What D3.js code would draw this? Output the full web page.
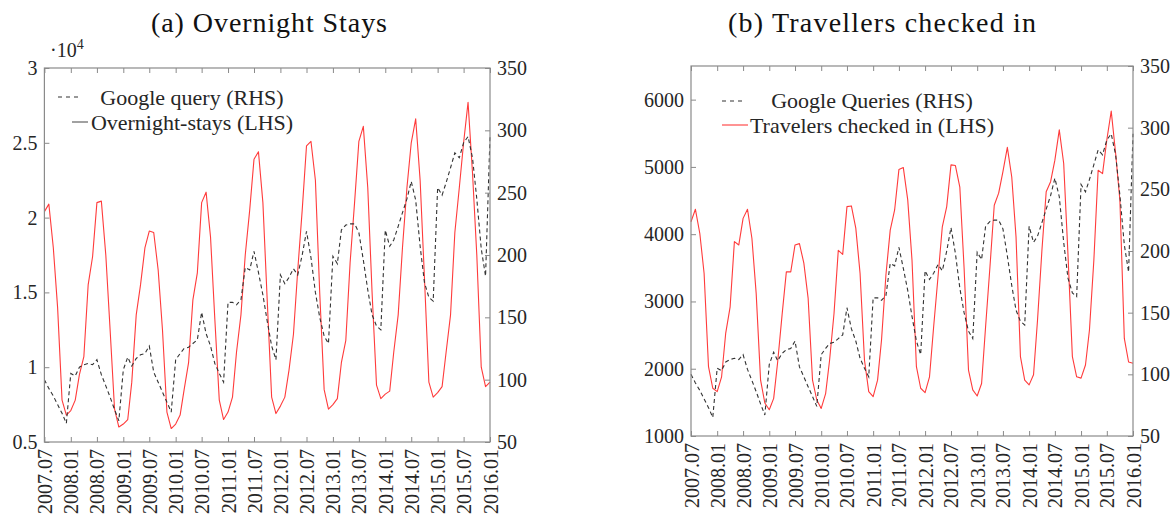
<!DOCTYPE html>
<html>
<head>
<meta charset="utf-8">
<script src="https://cdn.jsdelivr.net/npm/d3@7"></script>
<style>
  html, body { margin: 0; padding: 0; background: #fff; }
  svg { display: block; }
  svg text { font-family: "Liberation Serif", "Times New Roman", serif !important; }
</style>
</head>
<body>
<svg id="chart" width="1176" height="521"></svg>
<script>
// ---- data ----------------------------------------------------------------
// x-axis tick labels (every six months)
const tickLabels = ["2007.07","2008.01","2008.07","2009.01","2009.07","2010.01",
  "2010.07","2011.01","2011.07","2012.01","2012.07","2013.01","2013.07","2014.01",
  "2014.07","2015.01","2015.07","2016.01"];

// Google search query index (right-hand scale), monthly 2007.07 - 2016.01
const googleQueries = [100,93,87,80,73,65,
  105,103,110,112,113,112,116,104,95,86,76,67,
  108,118,111,117,120,121,127,106,98,90,82,74,
  116,121,125,126,129,132,154,137,127,113,105,98,
  162,162,160,164,190,188,203,186,168,147,127,116,
  184,177,182,189,184,200,219,198,170,150,135,129,
  199,193,220,224,225,225,218,196,172,152,143,140,
  220,207,212,223,234,245,259,244,207,178,166,163,
  254,248,258,270,282,278,290,295,278,245,205,183,
  295];

// Overnight stays (left-hand scale), monthly 2007.07 - 2016.01
const overnightStays = [20400,20900,18000,14000,7800,6800,
  7100,7800,9500,10700,15500,17400,21000,21100,17500,12500,7200,6000,
  6200,6500,9000,13500,15500,18000,19100,19000,16500,12500,7000,5900,
  6200,6800,8500,10300,14500,16300,21000,21700,18700,13200,7800,6500,
  7000,8000,11000,13500,17500,20500,23900,24400,21000,14500,8000,6900,
  7400,8000,9800,12200,16500,20500,24800,25100,22500,15000,8500,7200,
  7500,7900,10300,11800,17000,21000,25100,26100,22000,15000,8800,7900,
  8200,8400,11000,13500,18000,22000,25000,26600,22500,16000,9000,8000,
  8300,8700,11000,13500,19000,22000,25000,27700,23000,17500,10000,8700,
  9000];

// Travellers checked in (left-hand scale), monthly 2007.07 - 2016.01
const travelersCheckedIn = [4185,4370,4010,3420,2030,1710,
  1660,1880,2530,2920,3890,3840,4235,4370,3940,3120,1830,1490,
  1390,1560,2100,2800,3440,3440,3840,3860,3570,3050,1830,1535,
  1410,1630,2130,2820,3760,3700,4410,4420,4090,3420,2130,1660,
  1585,1830,2430,3400,4060,4360,4960,4990,4510,3615,2030,1710,
  1645,1880,2620,3370,4110,4410,5030,5020,4700,3500,1980,1685,
  1595,1780,2620,3520,4430,4610,4930,5290,4850,3960,2180,1830,
  1760,1910,2720,3760,4630,4780,5100,5550,5050,3700,2180,1880,
  1860,2055,2575,3615,4950,4900,5400,5830,5200,4500,2450,2100,
  2080];

const rhsTicks = [50,100,150,200,250,300,350];
const staysTicks = [5000,10000,15000,20000,25000,30000];
const travelersTicks = [1000,2000,3000,4000,5000,6000];

// ---- drawing --------------------------------------------------------------
const parseMonth = d3.timeParse("%Y.%m");
const tickDates = tickLabels.map(parseMonth);
// one date per observation: July 2007 through January 2016
const months = d3.timeMonth.range(new Date(2007, 6, 1), new Date(2016, 0, 2));

const svg = d3.select("#chart");
const RED = "#ff3b3b";
const AXIS = "#8a8a8a";
const LABEL = "#262626";
const SERIF = "'Liberation Serif', 'Times New Roman', serif";

const panels = [
  {
    title: "(a) Overnight Stays", titleX: 269, titleLen: 236,
    left: 44.4, right: 490, top: 68, bottom: 442,
    lhs: overnightStays, lhsDomain: [5000, 30000], lhsTicks: staysTicks,
    lhsFormat: v => String(v / 1e4),
    exponent: true,
    legend: {
      cx: 192,
      rows: [
        {text: "Google query (RHS)", x1: 58, x2: 79, y: 97, base: 105, dash: true, color: "#333"},
        {text: "Overnight-stays (LHS)", x1: 72, x2: 88, y: 122, base: 130, dash: false, color: "#555"}
      ]
    }
  },
  {
    title: "(b) Travellers checked in", titleX: 882, titleLen: 308,
    left: 691, right: 1133, top: 66, bottom: 436,
    lhs: travelersCheckedIn, lhsDomain: [1000, 6500], lhsTicks: travelersTicks,
    lhsFormat: v => String(v),
    exponent: false,
    legend: {
      cx: 872,
      rows: [
        {text: "Google Queries (RHS)", x1: 722, x2: 746, y: 101, base: 108, dash: true, color: "#333"},
        {text: "Travelers checked in (LHS)", x1: 722, x2: 748, y: 125, base: 133, dash: false, color: RED}
      ]
    }
  }
];

panels.forEach(p => {
  const g = svg.append("g");
  const x = d3.scaleTime().domain([months[0], months[months.length - 1]]).range([p.left, p.right]);
  const yL = d3.scaleLinear().domain(p.lhsDomain).range([p.bottom, p.top]);
  const yR = d3.scaleLinear().domain([50, 350]).range([p.bottom, p.top]);

  // title
  g.append("text")
    .attr("x", p.titleX).attr("y", 32)
    .attr("text-anchor", "middle")
    .attr("font-size", 28)
    .style("font-family", SERIF)
    .attr("textLength", p.titleLen).attr("lengthAdjust", "spacing")
    .attr("fill", "#111")
    .text(p.title);

  // series
  const lineL = d3.line().x((d, i) => x(months[i])).y(d => yL(d));
  const lineR = d3.line().x((d, i) => x(months[i])).y(d => yR(d));

  g.append("path").datum(p.lhs)
    .attr("d", lineL).attr("fill", "none")
    .attr("stroke", RED).attr("stroke-width", 1.1).attr("stroke-linejoin", "round");

  g.append("path").datum(googleQueries)
    .attr("d", lineR).attr("fill", "none")
    .attr("stroke", "#333").attr("stroke-width", 1.1)
    .attr("stroke-dasharray", "4,3");

  // axes
  const styleAxis = sel => {
    sel.attr("font-family", SERIF);
    sel.select(".domain").remove();
    sel.selectAll(".tick line").attr("stroke", AXIS).attr("stroke-width", 1);
    sel.selectAll(".tick text").attr("fill", LABEL).attr("font-size", 20)
      .style("font-family", SERIF);
  };

  const bottomAxis = g.append("g").attr("transform", `translate(0,${p.bottom})`)
    .call(d3.axisBottom(x).tickValues(tickDates).tickSize(-5)
      .tickFormat((d, i) => tickLabels[i]))
    .call(styleAxis);
  bottomAxis.selectAll(".tick text")
    .attr("transform", "rotate(-90)")
    .attr("text-anchor", "end")
    .attr("x", -7).attr("y", 0).attr("dy", "0.35em");

  g.append("g").attr("transform", `translate(0,${p.top})`)
    .call(d3.axisTop(x).tickValues(tickDates).tickSize(-5).tickFormat(""))
    .call(styleAxis);

  g.append("g").attr("transform", `translate(${p.left},0)`)
    .call(d3.axisLeft(yL).tickValues(p.lhsTicks).tickSize(-5).tickPadding(7)
      .tickFormat(p.lhsFormat))
    .call(styleAxis);

  g.append("g").attr("transform", `translate(${p.right},0)`)
    .call(d3.axisRight(yR).tickValues(rhsTicks).tickSize(-5).tickPadding(7))
    .call(styleAxis);

  // frame
  g.append("rect")
    .attr("x", p.left).attr("y", p.top)
    .attr("width", p.right - p.left).attr("height", p.bottom - p.top)
    .attr("fill", "none").attr("stroke", AXIS).attr("stroke-width", 1.2);

  // scale exponent of the left axis
  if (p.exponent) {
    const t = g.append("text").attr("x", 50).attr("y", 57)
      .attr("font-size", 20).attr("fill", LABEL).style("font-family", SERIF);
    t.append("tspan").text("\u00b710");
    t.append("tspan").attr("font-size", 14).attr("dy", -8).text("4");
  }

  // legend
  p.legend.rows.forEach(r => {
    g.append("line")
      .attr("x1", r.x1).attr("x2", r.x2).attr("y1", r.y).attr("y2", r.y)
      .attr("stroke", r.color).attr("stroke-width", 1.1)
      .attr("stroke-dasharray", r.dash ? "4,4" : null);
    g.append("text")
      .attr("x", p.legend.cx).attr("y", r.base)
      .attr("text-anchor", "middle")
      .attr("font-size", 22).attr("fill", LABEL)
      .style("font-family", SERIF)
      .text(r.text);
  });
});
</script>
</body>
</html>
